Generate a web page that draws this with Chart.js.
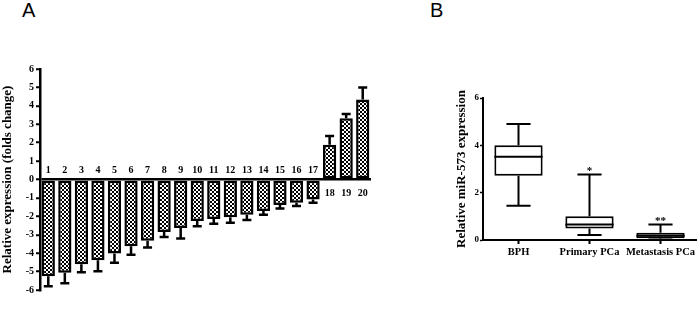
<!DOCTYPE html>
<html>
<head>
<meta charset="utf-8">
<script src="https://cdn.jsdelivr.net/npm/chart.js@4.4.0/dist/chart.umd.min.js"></script>
<style>
  body { margin: 0; background: #fff; width: 700px; height: 309px; position: relative; overflow: hidden; }
  .panel { position: absolute; font-family: "Liberation Sans", Arial, sans-serif; font-size: 20px; color: #000; }
  #wrapA { position: absolute; left: 0; top: 55px; width: 380px; height: 250px; }
  #wrapB { position: absolute; left: 440px; top: 85px; width: 260px; height: 200px; }
</style>
</head>
<body>
<div class="panel" style="left:22px; top:-1px;">A</div>
<div class="panel" style="left:430px; top:-1px;">B</div>
<div id="wrapA"><canvas id="chartA"></canvas></div>
<div id="wrapB"><canvas id="chartB"></canvas></div>
<script>
// panel A: fold change per sample
var samples = ['1','2','3','4','5','6','7','8','9','10','11','12','13','14','15','16','17','18','19','20'];
var foldChange = [-5.25, -5.06, -4.6, -4.38, -4.02, -3.62, -3.33, -2.85, -2.63, -2.25, -2.14, -2.05, -1.91, -1.71, -1.39, -1.26, -1.08, 1.89, 3.32, 4.35];
var foldErr = [0.55, 0.58, 0.43, 0.6, 0.5, 0.47, 0.36, 0.27, 0.57, 0.29, 0.26, 0.3, 0.29, 0.2, 0.18, 0.18, 0.18, 0.47, 0.24, 0.65];
var yTicksA = [-6, 6];

// panel B: box plot groups
var groups = ['BPH', 'Primary PCa', 'Metastasis PCa'];
var boxMin = [1.45, 0.21, 0.02];
var boxQ1 = [2.71, 0.49, 0.07];
var boxMedian = [3.52, 0.65, 0.18];
var boxQ3 = [4.0, 1.0, 0.31];
var boxMax = [4.9, 2.77, 0.65];
var stars = ['', '*', '**'];
var yTicksB = [0, 6];

var serif = 'Liberation Serif, Times New Roman, serif';

function checker() {
    var c = document.createElement('canvas');
    c.width = 4; c.height = 4;
    var g = c.getContext('2d');
    g.fillStyle = '#fff';
    g.fillRect(0, 0, 4, 4);
    g.fillStyle = '#000';
    g.fillRect(0, 0, 2, 2);
    g.fillRect(2, 2, 2, 2);
    return g.createPattern(c, 'repeat');
}

// error bars + sample numbers for A
var errPluginA = {
    id: 'errA',
    afterDatasetsDraw: function(chart) {
        var ctx = chart.ctx, x = chart.scales.x, y = chart.scales.y;
        ctx.save();
        ctx.strokeStyle = '#000';
        ctx.lineWidth = 2.5;
        ctx.fillStyle = '#000';
        ctx.font = 'bold 10px ' + serif;
        ctx.textAlign = 'center';
        foldChange.forEach(function(v, i) {
            var cx = x.getPixelForValue(i);
            var y0 = y.getPixelForValue(v);
            var y1 = y.getPixelForValue(v < 0 ? v - foldErr[i] : v + foldErr[i]);
            ctx.beginPath();
            ctx.moveTo(cx, y0); ctx.lineTo(cx, y1);
            ctx.moveTo(cx - 4.5, y1); ctx.lineTo(cx + 4.5, y1);
            ctx.stroke();
            var zy = y.getPixelForValue(0);
            if (v < 0) {
                ctx.textBaseline = 'bottom';
                ctx.fillText(samples[i], cx, zy - 4);
            } else {
                ctx.textBaseline = 'top';
                ctx.fillText(samples[i], cx, zy + 9);
            }
        });
        ctx.restore();
    }
};

new Chart(document.getElementById('chartA').getContext('2d'), {
    type: 'bar',
    data: {
        labels: samples,
        datasets: [{
            data: foldChange,
            backgroundColor: checker(),
            borderColor: '#000',
            borderWidth: 2.5,
            borderSkipped: false,
            barPercentage: 0.8,
            categoryPercentage: 1
        }]
    },
    options: {
        responsive: true,
        maintainAspectRatio: false,
        animation: false,
        layout: { padding: { top: 14, bottom: 15, right: 9, left: 0 } },
        plugins: { legend: { display: false }, tooltip: { enabled: false } },
        scales: {
            x: { display: false },
            y: {
                min: yTicksA[0], max: yTicksA[1],
                afterFit: function(s) { s.width = 40; },
                ticks: { stepSize: 1, color: '#000', font: { family: serif, weight: 'bold', size: 10 }, padding: 2 },
                border: { display: true, color: '#000', width: 2.5 },
                grid: {
                    color: function(c) { return c.tick && c.tick.value === 0 ? '#000' : 'rgba(0,0,0,0)'; },
                    lineWidth: 2.5,
                    tickColor: '#000',
                    tickLength: 4,
                    tickWidth: 2
                },
                title: { display: true, text: 'Relative expression (folds change)', color: '#000', font: { family: serif, weight: 'bold', size: 13 }, padding: 0 }
            }
        }
    },
    plugins: [errPluginA]
});

// whiskers, medians and stars for B
var boxPlugin = {
    id: 'boxB',
    afterDatasetsDraw: function(chart) {
        var ctx = chart.ctx, x = chart.scales.x, y = chart.scales.y;
        var meta = chart.getDatasetMeta(0);
        ctx.save();
        ctx.strokeStyle = '#000';
        ctx.lineWidth = 2;
        ctx.fillStyle = '#000';
        ctx.font = 'bold 11px ' + serif;
        ctx.textAlign = 'center';
        ctx.textBaseline = 'bottom';
        groups.forEach(function(g, i) {
            var bar = meta.data[i];
            var cx = bar.x, hw = bar.width / 2;
            var cw = hw / 2;
            var pMin = y.getPixelForValue(boxMin[i]);
            var pQ1 = y.getPixelForValue(boxQ1[i]);
            var pMed = y.getPixelForValue(boxMedian[i]);
            var pQ3 = y.getPixelForValue(boxQ3[i]);
            var pMax = y.getPixelForValue(boxMax[i]);
            ctx.beginPath();
            ctx.moveTo(cx, pQ3); ctx.lineTo(cx, pMax);
            ctx.moveTo(cx - cw, pMax); ctx.lineTo(cx + cw, pMax);
            ctx.moveTo(cx, pQ1); ctx.lineTo(cx, pMin);
            ctx.moveTo(cx - cw, pMin); ctx.lineTo(cx + cw, pMin);
            ctx.moveTo(cx - hw, pMed); ctx.lineTo(cx + hw, pMed);
            ctx.stroke();
            if (stars[i]) ctx.fillText(stars[i], cx, pMax + 2);
        });
        ctx.restore();
    }
};

new Chart(document.getElementById('chartB').getContext('2d'), {
    type: 'bar',
    data: {
        labels: groups,
        datasets: [{
            data: groups.map(function(g, i) { return [boxQ1[i], boxQ3[i]]; }),
            backgroundColor: '#fff',
            borderColor: '#000',
            borderWidth: 2,
            borderSkipped: false,
            barPercentage: 0.68,
            categoryPercentage: 1
        }]
    },
    options: {
        responsive: true,
        maintainAspectRatio: false,
        animation: false,
        layout: { padding: { top: 13, bottom: 0, right: 4, left: 0 } },
        plugins: { legend: { display: false }, tooltip: { enabled: false } },
        scales: {
            x: {
                afterFit: function(s) { s.height = 45; },
                ticks: { color: '#000', font: { family: serif, weight: 'bold', size: 10.5 }, padding: 2, maxRotation: 0, autoSkip: false },
                border: { display: true, color: '#000', width: 2 },
                grid: { offset: false, drawOnChartArea: false, tickColor: '#000', tickLength: 4, tickWidth: 2 }
            },
            y: {
                min: yTicksB[0], max: yTicksB[1],
                afterFit: function(s) { s.width = 43; },
                ticks: { stepSize: 2, color: '#000', font: { family: serif, weight: 'bold', size: 9 }, padding: 1 },
                border: { display: true, color: '#000', width: 2 },
                grid: { drawOnChartArea: false, tickColor: '#000', tickLength: 3, tickWidth: 1.5 },
                title: { display: true, text: 'Relative miR-573 expression', color: '#000', font: { family: serif, weight: 'bold', size: 13 }, padding: { top: 14, bottom: 0 } }
            }
        }
    },
    plugins: [boxPlugin]
});
</script>
</body>
</html>
